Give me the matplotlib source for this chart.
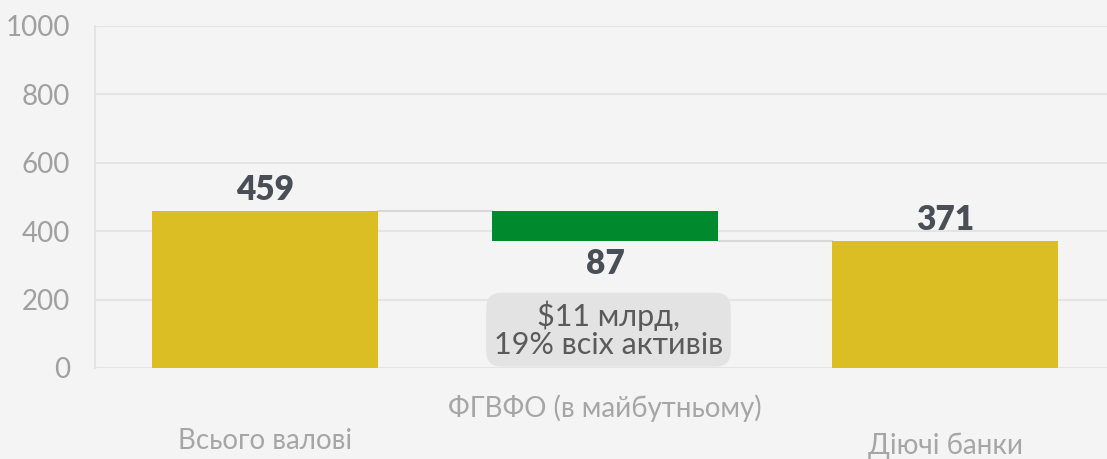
import matplotlib.pyplot as plt
from matplotlib.transforms import blended_transform_factory

categories = ['Всього валові', 'ФГВФО (в майбутньому)', 'Діючі банки']
values = [459, 87, 371]
label_y = [0.040, 0.110, 0.028]   # staggered category labels (figure fraction)
note = '$11 млрд,\n19% всіх активів'

plt.rcParams['font.family'] = ['Lato', 'Noto Sans', 'DejaVu Sans']

bg = '#f4f4f4'
fig = plt.figure(figsize=(11.07, 4.59), dpi=100, facecolor=bg)
ax = fig.add_axes([95 / 1107, 1 - 368 / 459, 1 - 95 / 1107, (368 - 26) / 459])
ax.set_facecolor(bg)

x = list(range(len(categories)))
bottoms = [0, values[0] - values[1], 0]
colors = ['#dbbe24', '#008a2e', '#dbbe24']
ax.bar(x, values, width=0.665, bottom=bottoms, color=colors, zorder=3)

# connector lines between waterfall steps
ax.plot([0.3325, 1 - 0.3325], [values[0]] * 2, color='#d8d8d8', lw=1.5, zorder=2)
ax.plot([1.3325, 2 - 0.3325], [values[2]] * 2, color='#d8d8d8', lw=1.5, zorder=2)

ax.set_xlim(-0.5, 2.476)
ax.set_ylim(0, 1000)
ax.set_yticks(range(0, 1001, 200))
ax.set_xticks([])
ax.grid(axis='y', color='#e4e4e4', lw=1.5, zorder=0)
for s in ['top', 'right', 'bottom']:
    ax.spines[s].set_visible(False)
ax.spines['left'].set_color('#e4e4e4')
ax.spines['left'].set_linewidth(1.5)
ax.tick_params(axis='y', length=0, pad=18, labelsize=20, labelcolor='#a0a0a0')

dark = '#4a4f57'
ax.text(0, values[0] + 15, str(values[0]), ha='center', va='bottom',
        fontsize=24, fontweight='heavy', color=dark)
ax.text(1, bottoms[1] - 22, str(values[1]), ha='center', va='top',
        fontsize=24, fontweight='heavy', color=dark)
ax.text(2, values[2] + 15, str(values[2]), ha='center', va='bottom',
        fontsize=24, fontweight='heavy', color=dark)

ax.text(1.01, 112, note, ha='center', va='center', fontsize=22, color='#5a5a5a',
        linespacing=1.0, zorder=5,
        bbox=dict(boxstyle='round,pad=0.25,rounding_size=0.5', fc='#e3e3e3', ec='none'))

trans = blended_transform_factory(ax.transData, fig.transFigure)
for i, (c, yy) in enumerate(zip(categories, label_y)):
    ax.text(i, yy, c, transform=trans, ha='center', va='center',
            fontsize=20, color='#a6a6a6', clip_on=False)

fig.savefig('out.png', dpi=100, facecolor=bg)
